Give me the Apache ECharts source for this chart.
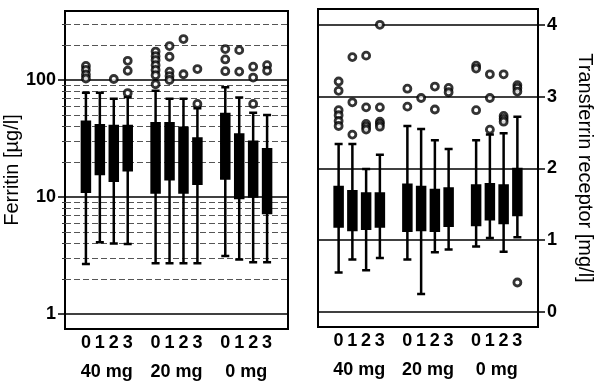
<!DOCTYPE html>
<html><head><meta charset="utf-8">
<script src="https://cdn.jsdelivr.net/npm/echarts@6/dist/echarts.min.js"></script>
<style>html,body{margin:0;padding:0;background:#fff}#c{width:600px;height:383px}</style>
</head><body><div id="c"></div>
<script>
// ---- data ----
const doses = ['40 mg', '20 mg', '0 mg'];
const times = ['0', '1', '2', '3'];
// Ferritin [µg/l] boxes: [min, Q1, median, Q3, max], order: dose group x time
const ferritinBoxes = [
  [2.67, 11.1, 24, 43.9, 77.9],
  [4.1, 15.7, 27, 41.0, 78],
  [4.0, 13.8, 25, 40.4, 69.2],
  [3.97, 16.9, 27, 40.4, 71.6],
  [2.71, 10.9, 23, 42.6, 81],
  [2.71, 14.2, 25, 42.6, 69.2],
  [2.71, 10.9, 22, 39.0, 69],
  [2.71, 13.0, 20, 31.7, 57.3],
  [3.13, 14.4, 28, 51.2, 86.6],
  [2.92, 9.8, 18, 34.3, 71],
  [2.77, 10.1, 17, 29.7, 52.5],
  [2.77, 7.3, 14, 25.6, 50.2]
];
// outliers: [boxIndex, value]
const ferritinOutliers = [
  [0,132],[0,122],[0,111],[0,103],
  [2,102],
  [3,146],[3,120],[3,77.4],
  [4,175],[4,160],[4,148],[4,134],[4,122],[4,110],[4,92],
  [5,195],[5,158],[5,118],[5,108],[5,100],
  [6,224],[6,112],
  [7,124],[7,62.4],
  [8,184],[8,150],[8,119],
  [9,180],[9,118],
  [10,130],[10,105],[10,62.4],
  [11,134],[11,120]
];
// Transferrin receptor [mg/l]
const tfrBoxes = [
  [0.55, 1.19, 1.45, 1.74, 2.34],
  [0.73, 1.14, 1.40, 1.68, 2.34],
  [0.58, 1.16, 1.40, 1.65, 1.99],
  [0.75, 1.19, 1.42, 1.65, 2.19],
  [0.73, 1.13, 1.45, 1.77, 2.59],
  [0.25, 1.14, 1.43, 1.74, 2.55],
  [0.83, 1.13, 1.40, 1.70, 2.39],
  [0.87, 1.20, 1.45, 1.72, 2.27],
  [0.91, 1.21, 1.48, 1.76, 2.39],
  [1.03, 1.29, 1.55, 1.78, 2.47],
  [0.84, 1.24, 1.50, 1.76, 2.49],
  [1.04, 1.35, 1.65, 1.99, 2.72]
];
const tfrOutliers = [
  [0,3.21],[0,3.08],[0,2.81],[0,2.74],[0,2.66],[0,2.59],
  [1,3.55],[1,2.92],[1,2.47],
  [2,3.57],[2,2.85],[2,2.62],[2,2.58],[2,2.54],
  [3,4.0],[3,2.85],[3,2.65],[3,2.62],[3,2.58],
  [4,3.11],[4,2.86],
  [5,2.98],
  [6,3.14],[6,2.82],
  [7,3.12],[7,3.06],
  [8,3.43],[8,3.39],[8,2.81],
  [9,3.31],[9,2.98],[9,2.54],
  [10,3.31],[10,2.73],[10,2.69],[10,2.65],
  [11,3.16],[11,3.12],[11,3.07],[11,0.41]
];
const ferritinMinorLines = [2,3,4,5,6,7,8,9,20,30,40,50,60,70,80,90,200,300];
const ferritinTicks = [1, 10, 100];
const tfrTicks = [0, 1, 2, 3, 4];

// ---- build categories: a blank slot before, between and after groups ----
const cats = [];
const slotOfBox = [];
cats.push('pad0');
doses.forEach((d, g) => {
  times.forEach((t) => { slotOfBox.push(cats.length); cats.push(d + '|' + t); });
  cats.push('pad' + (g + 1));
});
// group-label axis (boundaryGap false, 17 points) => group centres at 3, 8, 13
const groupCats = [];
for (let i = 0; i <= cats.length; i++) groupCats.push('g' + i);
const groupPos = {};
doses.forEach((d, g) => { groupPos['g' + (3 + g * 5)] = d; });

const EMPTY = ['-', '-', '-', '-', '-'];
const boxData = (arr) => cats.map((c, s) => {
  const b = slotOfBox.indexOf(s);
  return b >= 0 ? arr[b] : EMPTY;
});
const outData = (arr) => arr.map((o) => [slotOfBox[o[0]], o[1]]);

const FONT = 'Liberation Sans, Arial, Helvetica, sans-serif';
const digitLabel = {
  interval: 0, fontSize: 18, fontWeight: 'bold', color: '#000', fontFamily: FONT, margin: 5,
  formatter: (v) => (v.indexOf('|') >= 0 ? v.split('|')[1] : '')
};
const groupLabel = {
  interval: 0, fontSize: 18, fontWeight: 'bold', color: '#000', fontFamily: FONT, margin: 34,
  formatter: (v) => groupPos[v] || ''
};

const outlierStyle = { color: '#fff', borderColor: '#000', borderWidth: 2.8 };
const boxStyle = { color: '#000', borderColor: '#000', borderWidth: 2.5 };

const chart = echarts.init(document.getElementById('c'), null, { renderer: 'canvas' });
chart.setOption({
  animation: false,
  backgroundColor: '#fff',
  grid: [
    { left: 65, top: 11, width: 223, height: 318, show: true, borderColor: '#000', borderWidth: 2, backgroundColor: 'transparent' },
    { left: 318, top: 9, width: 220, height: 318, show: true, borderColor: '#000', borderWidth: 2, backgroundColor: 'transparent' }
  ],
  xAxis: [
    { type: 'category', gridIndex: 0, data: cats, position: 'bottom', axisLine: { show: false }, axisTick: { show: false }, axisLabel: digitLabel, splitLine: { show: false } },
    { type: 'category', gridIndex: 0, data: groupCats, boundaryGap: false, position: 'bottom', axisLine: { show: false }, axisTick: { show: false }, axisLabel: groupLabel, splitLine: { show: false } },
    { type: 'category', gridIndex: 1, data: cats, position: 'bottom', axisLine: { show: false }, axisTick: { show: false }, axisLabel: digitLabel, splitLine: { show: false } },
    { type: 'category', gridIndex: 1, data: groupCats, boundaryGap: false, position: 'bottom', axisLine: { show: false }, axisTick: { show: false }, axisLabel: groupLabel, splitLine: { show: false } }
  ],
  yAxis: [
    {
      type: 'log', logBase: 10, gridIndex: 0, min: 0.744, max: 389, position: 'left',
      name: 'Ferritin [µg/l]', nameLocation: 'middle', nameGap: 36, nameRotate: 90,
      nameTextStyle: { fontSize: 20, color: '#000', fontFamily: FONT },
      axisLine: { show: false },
      axisTick: { show: true, inside: false, length: 7, lineStyle: { color: '#000', width: 1.5 }, customValues: ferritinTicks },
      axisLabel: { fontSize: 18, fontWeight: 'bold', color: '#000', fontFamily: FONT, margin: 9, customValues: ferritinTicks },
      splitLine: { show: false }
    },
    {
      type: 'value', gridIndex: 1, min: -0.21, max: 4.22, position: 'right',
      name: 'Transferrin receptor [mg/l]', nameLocation: 'middle', nameGap: 37, nameRotate: -90,
      nameTextStyle: { fontSize: 20, color: '#000', fontFamily: FONT },
      axisLine: { show: false },
      axisTick: { show: true, inside: false, length: 7, lineStyle: { color: '#000', width: 1.5 }, customValues: tfrTicks },
      axisLabel: { fontSize: 18, fontWeight: 'bold', color: '#000', fontFamily: FONT, margin: 9, customValues: tfrTicks },
      splitLine: { show: false }
    },
    {
      type: 'log', logBase: 10, gridIndex: 0, min: 0.744, max: 389, position: 'left',
      axisLine: { show: false },
      axisTick: { show: true, inside: false, length: 3, lineStyle: { color: '#333', width: 1 }, customValues: ferritinMinorLines },
      axisLabel: { show: false },
      splitLine: { show: false }
    }
  ],
  series: [
    {
      type: 'boxplot', xAxisIndex: 0, yAxisIndex: 0, boxWidth: [8, 8],
      itemStyle: boxStyle, emphasis: { disabled: true },
      data: boxData(ferritinBoxes),
      markLine: {
        silent: true, symbol: 'none', label: { show: false }, z: 1,
        data: ferritinMinorLines.map((v) => ({ yAxis: v, lineStyle: { type: [6, 3], color: '#555', width: 1 } }))
          .concat(ferritinTicks.map((v) => ({ yAxis: v, lineStyle: { type: 'solid', color: '#000', width: 1.5 } })))
      },
      z: 3
    },
    {
      type: 'scatter', xAxisIndex: 0, yAxisIndex: 0, symbol: 'circle', symbolSize: 7,
      itemStyle: outlierStyle, data: outData(ferritinOutliers), z: 4
    },
    {
      type: 'boxplot', xAxisIndex: 2, yAxisIndex: 1, boxWidth: [8, 8],
      itemStyle: boxStyle, emphasis: { disabled: true },
      data: boxData(tfrBoxes),
      markLine: {
        silent: true, symbol: 'none', label: { show: false }, z: 1,
        data: tfrTicks.map((v) => ({ yAxis: v, lineStyle: { type: 'solid', color: '#000', width: 1.5 } }))
      },
      z: 3
    },
    {
      type: 'scatter', xAxisIndex: 2, yAxisIndex: 1, symbol: 'circle', symbolSize: 7,
      itemStyle: outlierStyle, data: outData(tfrOutliers), z: 4
    }
  ]
});
</script></body></html>
